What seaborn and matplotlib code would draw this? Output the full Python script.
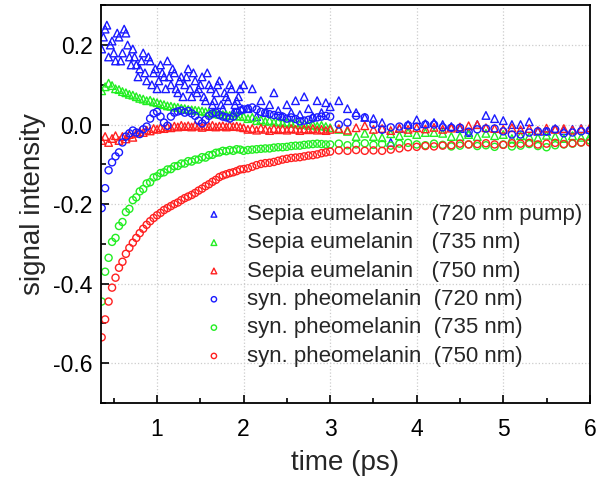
import numpy as np
import pandas as pd
import matplotlib
matplotlib.use("Agg")
import matplotlib.pyplot as plt
import seaborn as sns
from matplotlib.ticker import MultipleLocator

# time grids (ps): dense early sampling, then coarser
t_fast = np.round(np.arange(0.36, 1.97, 0.04), 2)   # 41 points
t_mid = np.round(np.arange(2.0, 2.96, 0.05), 2)     # 20 points
t_slow = np.round(np.arange(3.0, 6.01, 0.1), 2)     # 31 points
time = np.concatenate([t_fast, t_mid, t_slow])
# the noisy 720 nm eumelanin trace has twice the early sampling
t_fast_odd = np.round(t_fast + 0.02, 2)

# Sepia eumelanin (triangles)
sepia_720 = [0.19, 0.24, 0.17, 0.21, 0.16, 0.22, 0.18, 0.23, 0.17, 0.19,
             0.15, 0.14, 0.18, 0.11, 0.16, 0.13, 0.09, 0.15, 0.12, 0.16,
             0.10, 0.13, 0.08, 0.12, 0.10, 0.14, 0.07, 0.11, 0.09, 0.12,
             0.06, 0.10, 0.05, 0.08, 0.11, 0.04, 0.07, 0.10, 0.03, 0.06,
             0.09,
             0.10, 0.04, 0.09, 0.02, 0.06, 0.03, 0.05, 0.08, 0.035, 0.02,
             0.05, 0.03, 0.06, 0.025, 0.07, 0.04, 0.02, 0.06, 0.03, 0.055,
             0.045, 0.06, 0.04, 0.03, 0.018, 0.015, 0.005, -0.045, -0.01, 0.0,
             0.012, 0.002, 0.005, 0.0, -0.005, -0.01, -0.02, 0.0, 0.023, 0.015,
             0.01, 0.0, 0.0, 0.007, -0.017, -0.017, -0.01, -0.015, -0.012, -0.01,
             -0.012]
sepia_720_odd = [0.22, 0.25, 0.20, 0.18, 0.23, 0.16, 0.24, 0.20, 0.15, 0.17,
                 0.12, 0.16, 0.13, 0.17, 0.10, 0.14, 0.11, 0.13, 0.09, 0.12,
                 0.14, 0.09, 0.11, 0.07, 0.12, 0.09, 0.13, 0.08, 0.10, 0.07,
                 0.13, 0.09, 0.06, 0.10, 0.05, 0.08, 0.06, 0.09, 0.05, 0.07,
                 0.04]
sepia_735 = [0.085, 0.095, 0.104, 0.098, 0.09, 0.088, 0.083, 0.08, 0.076, 0.074,
             0.07, 0.066, 0.064, 0.06, 0.061, 0.057, 0.055, 0.052, 0.05, 0.047,
             0.046, 0.044, 0.043, 0.041, 0.04, 0.038, 0.037, 0.036, 0.035, 0.034,
             0.032, 0.03, 0.028, 0.027, 0.026, 0.025, 0.024, 0.023, 0.022, 0.022,
             0.021,
             0.02, 0.015, 0.018, 0.01, 0.012, 0.008, 0.01, 0.006, 0.008, 0.004,
             0.006, 0.003, 0.004, 0.0, 0.002, -0.002, 0.0, -0.004, -0.002, -0.005,
             -0.008, -0.012, -0.017, -0.03, -0.022, -0.03, -0.033, -0.023, -0.028, -0.02,
             -0.025, -0.02, -0.02, -0.022, -0.03, -0.03, -0.025, -0.03, -0.022, -0.028,
             -0.025, -0.035, -0.028, -0.03, -0.033, -0.027, -0.03, -0.035, -0.028, -0.032,
             -0.03]
sepia_750 = [-0.04, -0.03, -0.045, -0.035, -0.028, -0.04, -0.03, -0.036, -0.025, -0.032,
             -0.022, -0.018, -0.02, -0.014, -0.016, -0.01, -0.012, -0.008, -0.01, -0.006,
             -0.008, -0.004, -0.006, -0.002, -0.005, -0.003, -0.006, -0.002, -0.004, -0.007,
             -0.003, -0.005, -0.002, -0.006, -0.004, -0.003, -0.006, -0.002, -0.005, -0.004,
             -0.006,
             -0.008, -0.012, -0.01, -0.014, -0.009, -0.012, -0.015, -0.01, -0.013, -0.011,
             -0.014, -0.01, -0.012, -0.015, -0.011, -0.013, -0.01, -0.014, -0.012, -0.015,
             -0.012, -0.01, -0.014, -0.008, -0.003, -0.012, -0.01, -0.015, -0.009, -0.012,
             -0.008, -0.011, -0.007, -0.012, -0.009, -0.006, -0.003, 0.0, -0.008, -0.01,
             -0.012, -0.008, -0.013, -0.01, -0.015, -0.009, -0.012, -0.01, -0.014, -0.011,
             -0.008]

# syn. pheomelanin (circles)
pheo_720 = [-0.21, -0.16, -0.115, -0.095, -0.08, -0.07, -0.045, -0.03, -0.022, -0.015,
            -0.02, -0.024, -0.012, -0.005, 0.015, 0.028, 0.032, 0.02, 0.005, -0.003,
            0.02, 0.03, 0.033, 0.035, 0.03, 0.034, 0.028, 0.022, 0.01, 0.003,
            0.012, 0.022, 0.028, 0.03, 0.024, 0.02, 0.018, 0.015, 0.02, 0.03,
            0.035,
            0.038, 0.04, 0.043, 0.038, 0.032, 0.03, 0.026, 0.024, 0.022, 0.02,
            0.015, 0.018, 0.014, 0.008, 0.01, 0.012, 0.016, 0.018, 0.02, 0.022,
            0.02, 0.0, 0.005, 0.022, 0.018, 0.0, -0.013, -0.007, -0.005, -0.002,
            -0.005, 0.0, 0.0, -0.007, -0.008, -0.008, -0.018, -0.012, -0.01, -0.01,
            -0.017, -0.025, -0.025, -0.02, -0.017, -0.017, -0.012, -0.022, -0.02, -0.017,
            -0.015]
pheo_735 = [-0.445, -0.37, -0.335, -0.295, -0.285, -0.255, -0.245, -0.22, -0.212, -0.19,
            -0.183, -0.168, -0.162, -0.148, -0.145, -0.133, -0.13, -0.122, -0.12, -0.113,
            -0.112, -0.105, -0.104, -0.098, -0.098, -0.092, -0.093, -0.088, -0.088, -0.082,
            -0.083, -0.077, -0.076, -0.071, -0.07, -0.066, -0.067, -0.064, -0.066, -0.062,
            -0.063,
            -0.066, -0.064, -0.063, -0.062, -0.061, -0.06, -0.06, -0.058, -0.057, -0.057,
            -0.056, -0.054, -0.053, -0.053, -0.051, -0.05, -0.049, -0.048, -0.049, -0.05,
            -0.05, -0.048, -0.052, -0.05, -0.047, -0.051, -0.049, -0.053, -0.048, -0.046,
            -0.05, -0.052, -0.048, -0.051, -0.055, -0.053, -0.05, -0.054, -0.052, -0.056,
            -0.05, -0.055, -0.053, -0.049, -0.054, -0.057, -0.052, -0.05, -0.048, -0.045,
            -0.04]
pheo_750 = [-0.535, -0.49, -0.445, -0.41, -0.385, -0.36, -0.345, -0.325, -0.31, -0.297,
            -0.285, -0.273, -0.262, -0.252, -0.243, -0.235, -0.228, -0.222, -0.215, -0.21,
            -0.205, -0.2, -0.196, -0.19, -0.185, -0.181, -0.177, -0.172, -0.166, -0.161,
            -0.155, -0.15, -0.144, -0.139, -0.132, -0.128, -0.125, -0.122, -0.12, -0.117,
            -0.113,
            -0.112, -0.11, -0.106, -0.102, -0.099, -0.097, -0.096, -0.094, -0.091, -0.088,
            -0.086, -0.084, -0.083, -0.082, -0.08, -0.078, -0.077, -0.075, -0.072, -0.07,
            -0.068, -0.065, -0.066, -0.064, -0.066, -0.065, -0.066, -0.063, -0.06, -0.057,
            -0.056, -0.054, -0.055, -0.053, -0.052, -0.048, -0.05, -0.049, -0.047, -0.05,
            -0.051, -0.047, -0.048, -0.046, -0.05, -0.048, -0.046, -0.049, -0.047, -0.045,
            -0.045]

labels = ["Sepia eumelanin   (720 nm pump)", "Sepia eumelanin   (735 nm)",
          "Sepia eumelanin   (750 nm)", "syn. pheomelanin  (720 nm)",
          "syn. pheomelanin  (735 nm)", "syn. pheomelanin  (750 nm)"]
series_t = [np.concatenate([time, t_fast_odd]), time, time, time, time, time]
series = [sepia_720 + sepia_720_odd, sepia_735, sepia_750, pheo_720, pheo_735, pheo_750]
colors = ["#1a1aff", "#22ee22", "#ff2020", "#1a1aff", "#22ee22", "#ff2020"]
markers = ["^", "^", "^", "o", "o", "o"]

sns.set_style("ticks")
plt.rcParams["font.family"] = ["Liberation Sans", "DejaVu Sans"]
plt.rcParams["axes.unicode_minus"] = False

fig = plt.figure(figsize=(6, 4.78), dpi=100)
ax = fig.add_axes([0.168, 0.157, 0.815, 0.832])

for tt, vals, lab, col, mk in zip(series_t, series, labels, colors, markers):
    df = pd.DataFrame({"time": tt, "signal": vals})
    sns.scatterplot(data=df, x="time", y="signal", ax=ax, marker=mk,
                    s=30 if mk == "^" else 26, color=col, facecolor="none",
                    edgecolor=col, linewidth=1.0, label=lab)

ax.set_xlim(0.35, 6.0)
ax.set_ylim(-0.7, 0.3)
ax.xaxis.set_major_locator(MultipleLocator(1))
ax.xaxis.set_minor_locator(MultipleLocator(0.5))
ax.yaxis.set_major_locator(MultipleLocator(0.2))
ax.yaxis.set_minor_locator(MultipleLocator(0.1))
ax.yaxis.set_major_formatter(matplotlib.ticker.FormatStrFormatter("%.1f"))
ax.tick_params(which="both", direction="in", width=1.2, colors="black")
ax.tick_params(which="major", length=6, labelsize=16.5)
ax.tick_params(axis="x", which="major", pad=11)
ax.tick_params(axis="y", which="major", pad=6)
ax.tick_params(which="minor", length=3.5)
ax.grid(True, which="major", linestyle=":", color="#cccccc", linewidth=0.9)
ax.set_axisbelow(True)
for sp in ax.spines.values():
    sp.set_linewidth(1.3)
    sp.set_color("black")

ax.set_xlabel("time (ps)", fontsize=20, labelpad=6)
ax.set_ylabel("signal intensity", fontsize=20, labelpad=5)

ax.legend(loc="upper left", bbox_to_anchor=(0.338, 0.573),
          bbox_transform=fig.transFigure, frameon=False, fontsize=16,
          markerscale=0.75, handlelength=1.0, handletextpad=1.0,
          labelspacing=0.33, borderpad=0, borderaxespad=0)

fig.savefig("out.png", dpi=100)
